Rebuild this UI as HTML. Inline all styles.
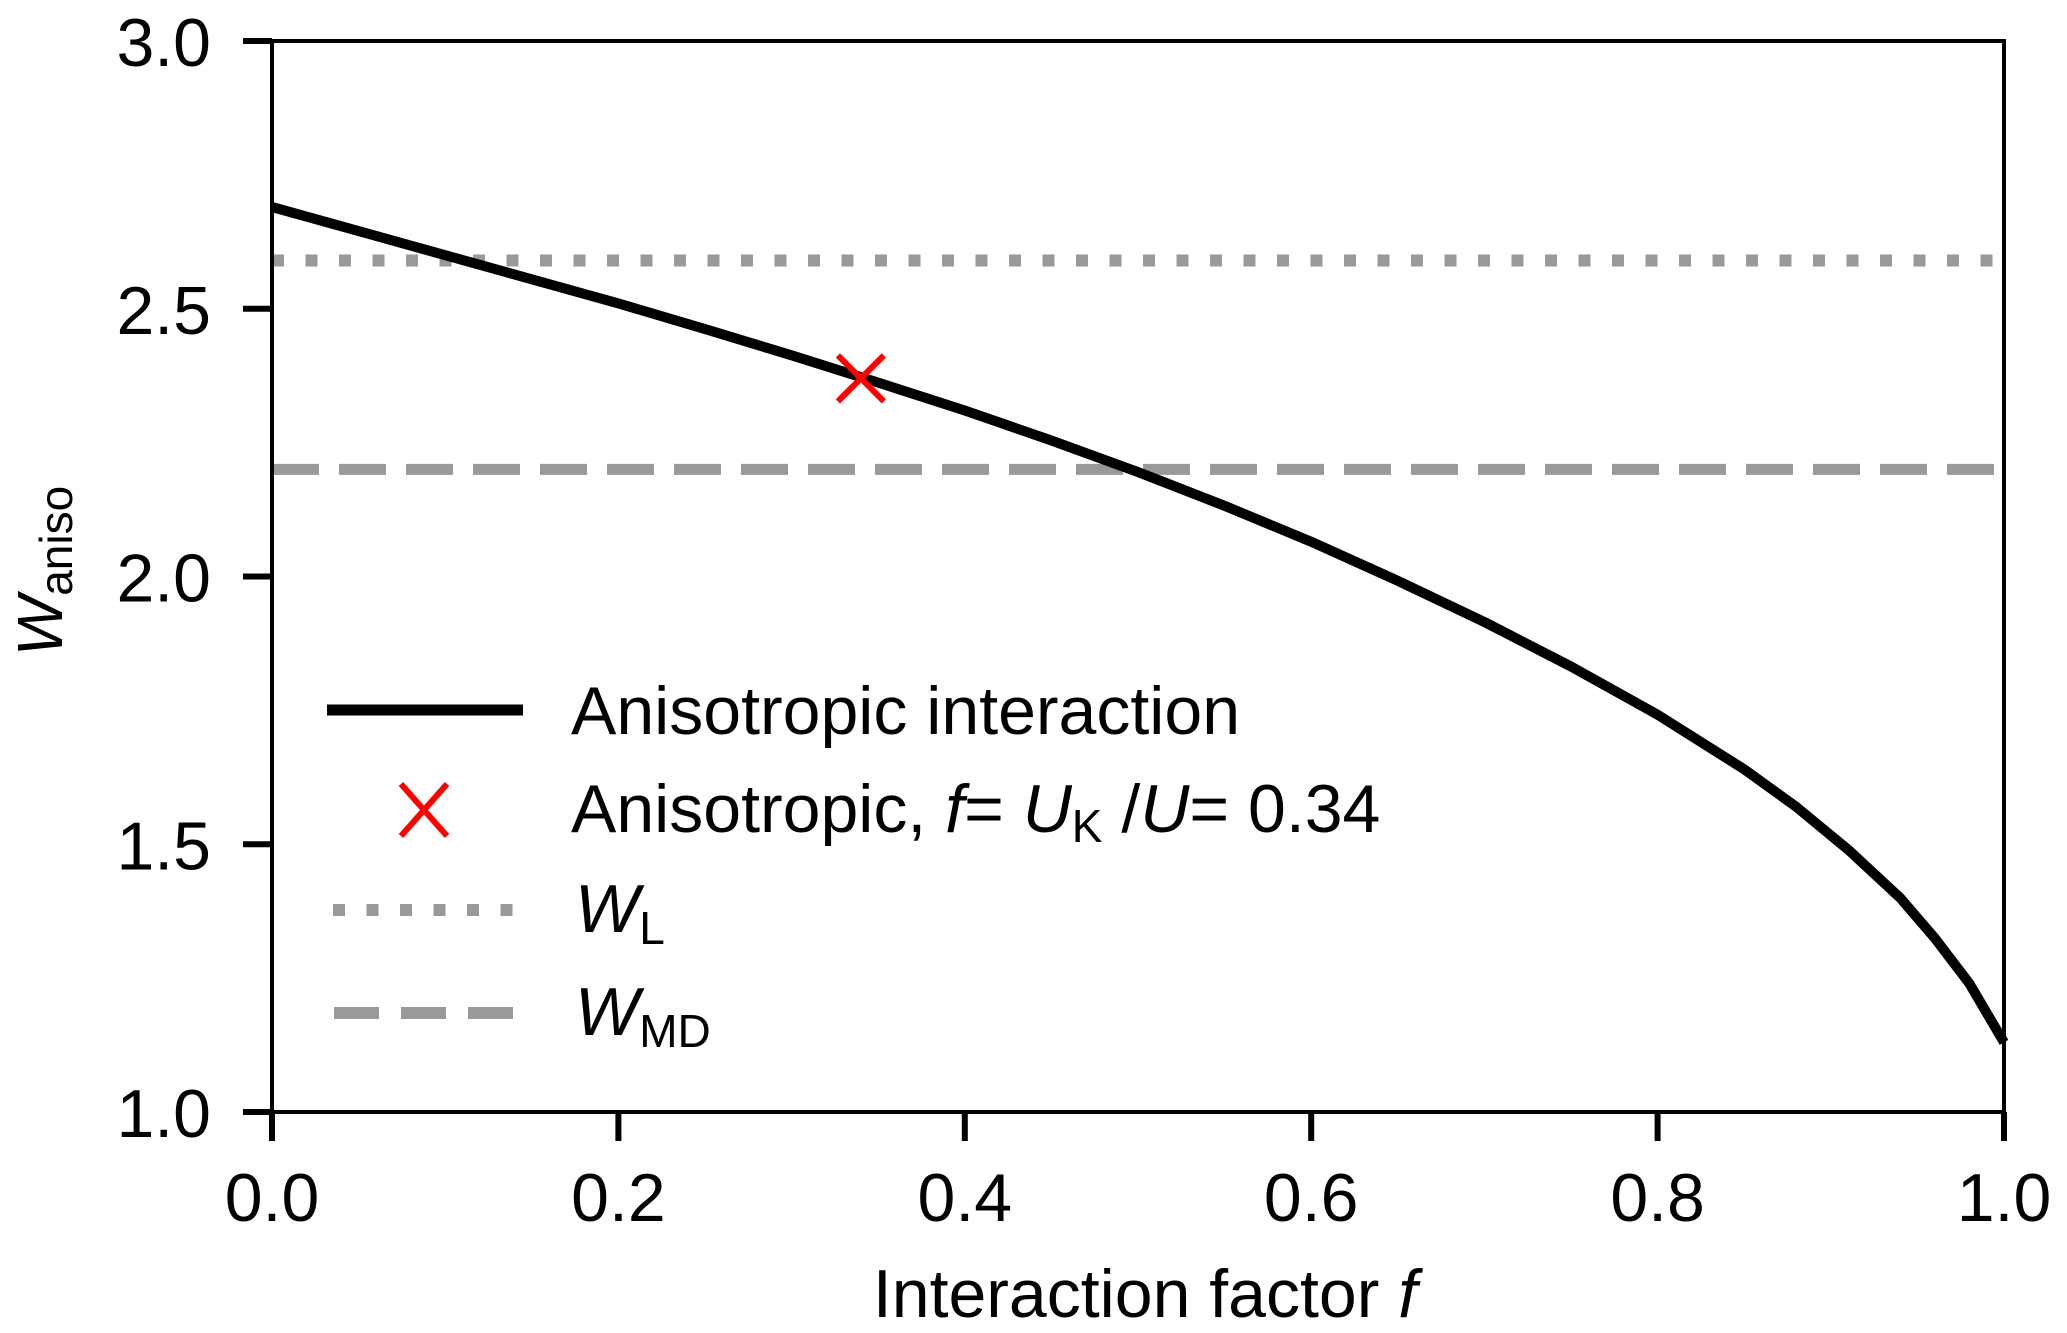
<!DOCTYPE html>
<html><head><meta charset="utf-8"><style>
html,body{margin:0;padding:0;background:#fff}
svg{display:block}
text{font-family:"Liberation Sans",Arial,sans-serif;fill:#000}
</style></head><body>
<svg id="chart" width="2067" height="1333" viewBox="0 0 2067 1333" xmlns="http://www.w3.org/2000/svg">
<g id="plot"></g>
<g id="axes"></g>
</svg>
<script>
const fVals=[0,0.05,0.1,0.15,0.2,0.25,0.3,0.35,0.4,0.45,0.5,0.55,0.6,0.65,0.7,0.75,0.8,0.85,0.88,0.91,0.94,0.96,0.98,1.0];
const wVals=[2.69,2.645,2.60,2.555,2.51,2.462,2.413,2.362,2.31,2.254,2.195,2.132,2.065,1.992,1.915,1.832,1.742,1.64,1.57,1.49,1.40,1.325,1.24,1.13];
const markerF=[0.34];
const markerW=[2.37];
const wL=[2.59];
const wMD=[2.20];
const xTicks=[0,0.2,0.4,0.6,0.8,1.0];
const xTickLabels=["0.0","0.2","0.4","0.6","0.8","1.0"];
const yTicks=[1.0,1.5,2.0,2.5,3.0];
const yTickLabels=["1.0","1.5","2.0","2.5","3.0"];

const X0=272,X1=2004,Y0=1112,Y1=41;
const sx=v=>X0+(v-0)/(1-0)*(X1-X0);
const sy=v=>Y0-(v-1)/(3-1)*(Y0-Y1);
const NS="http://www.w3.org/2000/svg";
function mk(tag,attrs,parent){const e=document.createElementNS(NS,tag);for(const k in attrs)e.setAttribute(k,attrs[k]);parent.appendChild(e);return e;}
const plot=document.getElementById('plot'),axes=document.getElementById('axes');

let l=mk('line',{x1:sx(0),x2:sx(1),y1:sy(wL[0]),y2:sy(wL[0]),stroke:'#999',"stroke-width":12,"stroke-dasharray":"12 21.5"},plot);


l=mk('line',{x1:sx(0),x2:sx(1),y1:sy(wMD[0]),y2:sy(wMD[0]),stroke:'#999',"stroke-width":11,"stroke-dasharray":"47 20"},plot);


let d=fVals.map((f,i)=>(i?'L':'M')+sx(f).toFixed(1)+','+sy(wVals[i]).toFixed(1)).join(' ');
l=mk('path',{d:d,fill:'none',stroke:'#000',"stroke-width":10,"stroke-linejoin":"round"},plot);


markerF.forEach((f,i)=>{const cx=sx(f),cy=sy(markerW[i]),r=23;
 const g=mk('path',{d:`M${cx-r},${cy-r}L${cx+r},${cy+r}M${cx-r},${cy+r}L${cx+r},${cy-r}`,stroke:'#f00',"stroke-width":6,fill:'none'},plot);
 
 });

let fr=mk('rect',{x:X0,y:Y1,width:X1-X0,height:Y0-Y1,fill:'none',stroke:'#000',"stroke-width":4},axes);


xTicks.forEach((v,i)=>{const x=sx(v);
 const t=mk('line',{x1:x,x2:x,y1:Y0,y2:Y0+29,stroke:'#000',"stroke-width":6},axes);
 
 
 const tx=mk('text',{x:x,y:1221,"font-size":68,"text-anchor":"middle"},axes);tx.textContent=xTickLabels[i];
 
 });
yTicks.forEach((v,i)=>{const y=sy(v);
 const t=mk('line',{x1:X0-29,x2:X0,y1:y,y2:y,stroke:'#000',"stroke-width":6},axes);
 
 
 const tx=mk('text',{x:211,y:y+25,"font-size":68,"text-anchor":"end"},axes);tx.textContent=yTickLabels[i];
 
 });
</script>
<svg style="position:absolute;left:0;top:0" width="2067" height="1333">
<text x="1145" y="1317" font-size="68" text-anchor="middle">Interaction factor <tspan font-style="italic">f</tspan></text>
<text transform="translate(62,571) rotate(-90)" font-size="64" text-anchor="middle"><tspan font-style="italic">W</tspan><tspan font-size="46" dy="10">aniso</tspan></text>
<g>
<line x1="327" x2="523" y1="710" y2="710" stroke="#000" stroke-width="11"/>
<text x="571" y="734" font-size="68">Anisotropic interaction</text></g>
<g>
<path d="M401,784L447,836M401,836L447,784" stroke="#f00" stroke-width="6"/>
<text x="571" y="832" font-size="68">Anisotropic, <tspan font-style="italic">f</tspan>= <tspan font-style="italic">U</tspan><tspan font-size="46" dy="10">K</tspan><tspan dy="-10"> /</tspan><tspan font-style="italic">U</tspan>= 0.34</text></g>
<g>
<line x1="333" x2="520" y1="910" y2="910" stroke="#999" stroke-width="12" stroke-dasharray="12 21.5"/>
<text x="575" y="932" font-size="68"><tspan font-style="italic">W</tspan><tspan font-size="46" dy="12">L</tspan></text></g>
<g>
<line x1="334" x2="515" y1="1013" y2="1013" stroke="#999" stroke-width="12" stroke-dasharray="45 22"/>
<text x="575" y="1035" font-size="68"><tspan font-style="italic">W</tspan><tspan font-size="46" dy="12">MD</tspan></text></g>
</svg>
</body></html>
